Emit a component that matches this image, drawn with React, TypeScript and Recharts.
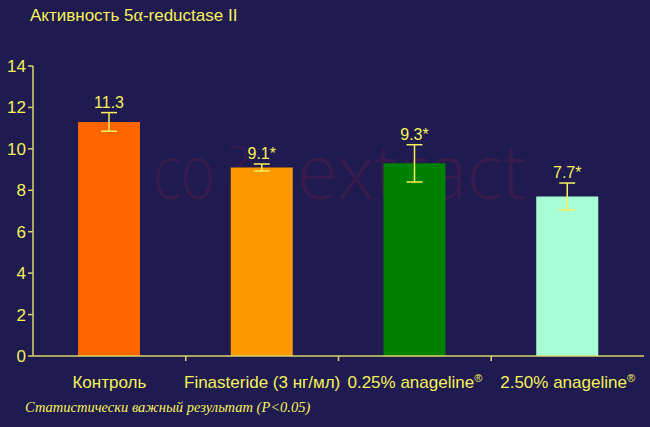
import React from 'react';
import { BarChart, Bar, XAxis, YAxis, Cell, ErrorBar, LabelList } from 'recharts';

const categories = ['Контроль', 'Finasteride (3 нг/мл)', '0.25% anageline', '2.50% anageline'];
const registered = [false, false, true, true];
const values = [11.3, 9.1, 9.3, 7.7];
const errors = [0.45, 0.17, 0.9, 0.65];
const significant = [false, true, true, true];
const barColors = ['#FF6600', '#FF9900', '#008000', '#A8FFD6'];
const yTicks = [0, 2, 4, 6, 8, 10, 12, 14];

const title = 'Активность 5';
const titleTail = '-reductase II';
const footnote = 'Статистически важный результат (P<0.05)';

const data = categories.map((c, i) => ({
  name: c,
  value: values[i],
  err: errors[i],
  label: values[i].toFixed(1) + (significant[i] ? '*' : ''),
}));

const W = 650;
const H = 427;
const Y_AXIS_W = 33;
const M_RIGHT = 6;
const M_TOP = 66;
const X_AXIS_H = 71;
const BAND = (W - Y_AXIS_W - M_RIGHT) / categories.length;

const YELLOW = '#F6F25A';
const AXIS = '#D9D46A';
const BG = '#1F1A50';
const FONT = 'Arial, "Liberation Sans", sans-serif';

const XTick = (props: any) => {
  const { x, y, payload, index } = props;
  const i = categories.indexOf(payload.value);
  return (
    <g>
      {index < categories.length - 1 && (
        <line x1={x + BAND / 2} x2={x + BAND / 2} y1={y} y2={y + 5} stroke={AXIS} strokeWidth={1.5} />
      )}
      <text x={x} y={y + 32} textAnchor="middle" fill={YELLOW} fontSize={17} fontFamily={FONT}>
        {payload.value}
        {registered[i] && (
          <tspan fontSize={11} dy={-6}>®</tspan>
        )}
      </text>
    </g>
  );
};

const ValueLabel = (props: any) => {
  const { x, y, width, height, index } = props;
  const v = values[index];
  const pxPer = Number(height) / v;
  const ty = Number(y) - errors[index] * pxPer - 5;
  return (
    <text x={Number(x) + Number(width) / 2} y={ty} textAnchor="middle" fill={YELLOW} fontSize={16} fontFamily={FONT}>
      {data[index].label}
    </text>
  );
};

export default function App() {
  return (
    <div style={{ position: 'absolute', left: 0, top: 0, width: W, height: H, background: BG, overflow: 'hidden' }}>
      <svg width={W} height={H} style={{ position: 'absolute', left: 0, top: 0, pointerEvents: 'none' }}>
        <g fill="rgb(150,40,60)" fillOpacity={0.2} fontFamily='"Open Sans", sans-serif' fontWeight={300} fontSize={76}>
          <text x={153} y={199} textLength={62} lengthAdjust="spacingAndGlyphs">co</text>
          <text x={226} y={178} fontSize={44}>2</text>
          <text x={297} y={199} textLength={230} lengthAdjust="spacingAndGlyphs">extract</text>
        </g>
      </svg>
      <div style={{ position: 'absolute', left: 0, top: 0 }}>
        <BarChart
          width={W}
          height={H}
          data={data}
          margin={{ top: M_TOP, right: M_RIGHT, bottom: 0, left: 0 }}
        >
          <YAxis
            width={Y_AXIS_W}
            domain={[0, 14]}
            ticks={yTicks}
            interval={0}
            axisLine={{ stroke: AXIS, strokeWidth: 1.5 }}
            tickLine={{ stroke: AXIS, strokeWidth: 1.5 }}
            tickSize={5}
            tickMargin={2}
            tick={{ fill: YELLOW, fontSize: 17, fontFamily: FONT }}
          />
          <XAxis
            dataKey="name"
            height={X_AXIS_H}
            axisLine={{ stroke: AXIS, strokeWidth: 1.5 }}
            tickLine={false}
            tickSize={0}
            tickMargin={0}
            interval={0}
            tick={<XTick />}
          />
          <Bar dataKey="value" barSize={62} isAnimationActive={false}>
            {data.map((d, i) => (
              <Cell key={d.name} fill={barColors[i]} />
            ))}
            <ErrorBar dataKey="err" width={8} stroke={YELLOW} strokeWidth={1.5} direction="y" isAnimationActive={false} />
            <LabelList dataKey="value" content={<ValueLabel />} />
          </Bar>
        </BarChart>
      </div>
      <div
        style={{
          position: 'absolute', left: 30, top: 5, color: YELLOW, fontFamily: FONT, fontSize: 17, whiteSpace: 'nowrap',
        }}
      >
        {title}
        <span style={{ fontFamily: '"Liberation Serif", "DejaVu Serif", serif', fontSize: 18 }}>α</span>
        {titleTail}
      </div>
      <div
        style={{
          position: 'absolute', left: 25, top: 399, color: YELLOW, fontFamily: '"Liberation Serif", serif',
          fontStyle: 'italic', fontSize: 14.5, whiteSpace: 'nowrap',
        }}
      >
        {footnote}
      </div>
    </div>
  );
}
